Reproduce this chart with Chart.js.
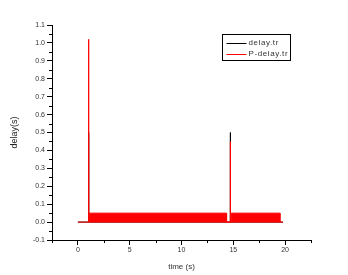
<!DOCTYPE html>
<html>
<head>
<meta charset="utf-8">
<script src="https://cdn.jsdelivr.net/npm/chart.js@4/dist/chart.umd.min.js"></script>
<style>
  html, body { margin: 0; padding: 0; background: #fff; }
  #wrap { width: 348px; height: 275px; }
</style>
</head>
<body>
<div id="wrap"><canvas id="chart" width="348" height="275"></canvas></div>
<script>
// series (time in s, delay in s)
const delayX = [0, 1.04, 1.04, 1.04, 14.72, 14.72, 14.72, 19.8];
const delayY = [0, 0, 0.5, 0, 0, 0.5, 0, 0];

const pDelayX = [0, 0.98, 0.98, 1.04, 1.04, 1.04, 1.07, 1.07, 14.72, 14.72, 14.72, 19.8];
const pDelayY = [0, 0, 0.5, 0.5, 1.02, 0.5, 0.5, 0, 0, 0.45, 0, 0];

// dense 0..0.05 jitter of P-delay.tr, drawn as its envelope
const bandX = [1.1, 1.1, 14.35, 14.35, 14.8, 14.8, 19.5, 19.5];
const bandY = [0, 0.05, 0.05, 0, 0, 0.05, 0.05, 0];

const xTicks = [0, 5, 10, 15, 20];
const xMinor = [-2.5, 2.5, 7.5, 12.5, 17.5, 22.5];
const yMinor = [-0.05, 0.05, 0.15, 0.25, 0.35, 0.45, 0.55, 0.65, 0.75, 0.85, 0.95, 1.05];

const toPts = (xs, ys) => xs.map((x, i) => ({ x: x, y: ys[i] }));
const FONT = "'Liberation Sans', Arial, sans-serif";

// minor ticks + legend box like Origin
const extras = {
  id: "extras",
  afterDraw(chart) {
    const ctx = chart.ctx;
    const xs = chart.scales.x, ys = chart.scales.y;
    const area = chart.chartArea;
    ctx.save();
    ctx.strokeStyle = "#000";
    ctx.lineWidth = 1;
    ctx.beginPath();
    xMinor.forEach((v) => {
      const px = Math.round(xs.getPixelForValue(v)) + 0.5;
      ctx.moveTo(px, area.bottom);
      ctx.lineTo(px, area.bottom + 3);
    });
    yMinor.forEach((v) => {
      const py = Math.round(ys.getPixelForValue(v)) + 0.5;
      ctx.moveTo(area.left, py);
      ctx.lineTo(area.left - 3, py);
    });
    ctx.stroke();

    // legend: delay.tr first, then P-delay.tr
    const items = chart.data.datasets.filter((d) => d.label).reverse();
    const bx = area.right - 88.5, by = area.top + 9.5;
    ctx.strokeStyle = "#000";
    ctx.strokeRect(bx, by, 68, 26);
    ctx.font = "8px " + FONT;
    ctx.letterSpacing = "0.6px";
    ctx.textBaseline = "middle";
    ctx.fillStyle = "#333";
    items.forEach((d, i) => {
      const ly = by + 8 + i * 11.5;
      ctx.strokeStyle = d.borderColor;
      ctx.beginPath();
      ctx.moveTo(bx + 4, Math.round(ly) + 0.5);
      ctx.lineTo(bx + 24, Math.round(ly) + 0.5);
      ctx.stroke();
      ctx.fillText(d.label, bx + 26, ly);
    });
    ctx.restore();
  },
};

new Chart(document.getElementById("chart"), {
  type: "line",
  data: {
    datasets: [
      {
        label: "P-delay.tr",
        data: toPts(pDelayX, pDelayY),
        borderColor: "#ff0000",
        borderWidth: 1,
        pointRadius: 0,
        tension: 0,
        fill: false,
        order: 0,
      },
      {
        data: toPts(bandX, bandY),
        borderColor: "#ff0000",
        backgroundColor: "#ff0000",
        borderWidth: 1,
        pointRadius: 0,
        tension: 0,
        fill: "origin",
        order: 1,
      },
      {
        label: "delay.tr",
        data: toPts(delayX, delayY),
        borderColor: "#000000",
        borderWidth: 1,
        pointRadius: 0,
        tension: 0,
        fill: false,
        order: 2,
      },
    ],
  },
  options: {
    responsive: false,
    animation: false,
    layout: { padding: { top: 25, right: 37, left: 0, bottom: 0 } },
    plugins: { legend: { display: false }, tooltip: { enabled: false } },
    scales: {
      x: {
        type: "linear",
        min: -2.5,
        max: 22.5,
        afterBuildTicks: (s) => { s.ticks = xTicks.map((v) => ({ value: v })); },
        afterFit: (s) => { s.height = 35; },
        border: { color: "#000", width: 1 },
        grid: { drawOnChartArea: false, tickLength: 5, tickColor: "#000" },
        ticks: { color: "#333", padding: 1, font: { family: FONT, size: 7 }, maxRotation: 0 },
        title: {
          display: true,
          text: "time (s)",
          color: "#333",
          font: { family: FONT, size: 8 },
          padding: { top: 0, bottom: 3 },
        },
      },
      y: {
        min: -0.1,
        max: 1.1,
        afterFit: (s) => { s.width = 52; },
        border: { color: "#000", width: 1 },
        grid: { drawOnChartArea: false, tickLength: 5, tickColor: "#000" },
        ticks: {
          stepSize: 0.1,
          color: "#333",
          padding: 2,
          font: { family: FONT, size: 7 },
          callback: (v) => (Math.abs(v) < 1e-9 ? "0.0" : Number(v).toFixed(1)),
        },
        title: {
          display: true,
          text: "delay(s)",
          color: "#222",
          font: { family: FONT, size: 9 },
          padding: { top: 9, bottom: 0 },
        },
      },
    },
  },
  plugins: [extras],
});
</script>
</body>
</html>
